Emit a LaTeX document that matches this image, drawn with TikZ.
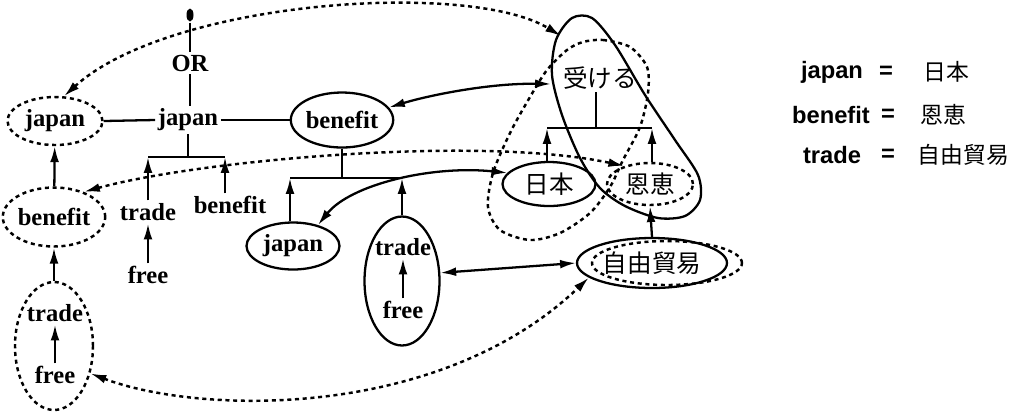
\documentclass[tikz,border=0pt]{standalone}
\usepackage{fontspec}
\setmainfont{Liberation Serif}
\setsansfont{Liberation Sans}
\newfontfamily\jpfont{Noto Sans CJK JP}
\usetikzlibrary{shapes.geometric,arrows.meta}

\tikzset{
  lbl/.style={font=\fontsize{14}{16}\selectfont\bfseries, inner sep=1pt},
  jp/.style={font=\fontsize{14}{16}\selectfont\jpfont, inner sep=1pt},
  oval/.style={ellipse, draw, line width=1.3pt, inner sep=0pt},
  dotline/.style={line width=1.4pt, dash pattern=on 2.3pt off 2.1pt},
  dotoval/.style={oval, dotline},
  tip/.style={-{Latex[length=9pt,width=5pt]}},
  tips/.style={{Latex[length=9pt,width=5pt]}-{Latex[length=9pt,width=5pt]}},
  key/.style={font=\sffamily\bfseries\fontsize{13.5}{16}\selectfont, inner sep=1pt},
}

\begin{document}
\begin{tikzpicture}[x=0.02cm, y=-0.02cm, line width=1.3pt]
  \useasboundingbox (0,0) rectangle (1011,414);

  % left part
  \node[fill, ellipse, minimum width=0.14cm, minimum height=0.26cm, inner sep=0pt] (top) at (190,15) {};
  \node[lbl] (or) at (190,63) {OR};
  \node[lbl] (japM) at (188,120) {japan};
  \node[lbl, dotoval, minimum width=1.9cm, minimum height=0.96cm] (japL) at (55,121) {japan};
  \node[lbl, dotoval, minimum width=1.84cm, minimum height=1.18cm] (benL) at (54,217) {benefit};
  \node[dotoval, minimum width=1.56cm, minimum height=2.56cm] (tfL) at (54,346) {};
  \node[lbl] (tradeL) at (55,313) {trade};
  \node[lbl] (freeL) at (55,375) {free};
  \node[lbl] (tradeA) at (148,212) {trade};
  \node[lbl] (freeA) at (148,275) {free};
  \node[lbl] (benA) at (230,205) {benefit};

  % middle part
  \node[lbl, oval, minimum width=1.76cm, minimum height=1.1cm] (benM) at (342,120) {benefit};
  \node[lbl, oval, minimum width=1.86cm, minimum height=0.94cm] (japR) at (293,246) {japan};
  \node[oval, minimum width=1.5cm, minimum height=2.58cm] (tfR) at (402,281) {};
  \node[lbl] (tradeR) at (403,247) {trade};
  \node[lbl] (freeR) at (403,310) {free};

  % japanese part
  \node[jp] (ukeru) at (600,78) {受ける};
  \node[jp, oval, minimum width=1.86cm, minimum height=0.88cm] (nihon) at (549,184) {日本};
  \node[jp, dotoval, minimum width=1.72cm, minimum height=0.84cm] (onkei) at (650,184) {恩恵};
  \node[dotoval, minimum width=3cm, minimum height=0.88cm] (jiyuD) at (667,263) {};
  \node[jp, oval, minimum width=3cm, minimum height=1cm] (jiyu) at (652,263) {自由貿易};

  \draw plot[smooth cycle] coordinates {(556,40) (572,18) (592,18) (615,45) (645,95) (675,140)
    (698,175) (700,200) (685,216) (658,218) (625,206) (600,188) (580,158) (562,115) (552,75)};
  \draw[dotline] plot[smooth cycle] coordinates {(583,42) (603,40) (630,47) (647,67) (648,93)
    (640,127) (623,160) (610,187) (590,213) (560,233) (530,240) (500,230) (488,207) (493,173)
    (510,133) (530,97) (547,70) (567,50)};
  \coordinate (lpT) at (561,36);
  \coordinate (lpL) at (551,84);

  % trees
  \coordinate (forkA) at (188,157);
  \coordinate (forkAl) at (148,157);
  \coordinate (forkAr) at (225,157);
  \coordinate (forkB) at (342,178);
  \coordinate (forkBl) at (290,178);
  \coordinate (forkBr) at (402,178);
  \coordinate (forkC) at (596,128);
  \coordinate (forkCl) at (547,128);
  \coordinate (forkCr) at (652,128);

  \draw (top) -- (or);
  \draw (or.south) -- (or.south |- japM.north);
  \draw (japL.east) -- (japM.west);
  \draw (japM.east) -- (benM.west);
  \draw (japM.south) -- (forkA);
  \draw (forkAl) -- (forkAr);
  \draw[tip] (tradeA.north) -- (forkAl);
  \draw[tip] (benA.north -| forkAr) -- (forkAr);
  \draw[tip] (freeA) -- (tradeA);
  \draw[tip] (benL) -- (japL);
  \draw[tip] (tfL) -- (benL);
  \draw[tip] (freeL) -- (tradeL);

  \draw (benM.south) -- (forkB);
  \draw (forkBl) -- (forkBr);
  \draw[tip] (japR.north -| forkBl) -- (forkBl);
  \draw[tip] (tfR.north) -- (forkBr);
  \draw[tip] (freeR) -- (tradeR);

  \draw (forkC |- ukeru.south) -- (forkC);
  \draw (forkCl) -- (forkCr);
  \draw[tip] (nihon.north -| forkCl) -- (forkCl);
  \draw[tip] (onkei.north -| forkCr) -- (forkCr);
  \draw[tip] (jiyu.north) -- (onkei.south);

  % links
  \draw[tips] (japR.40) .. controls (350,185) and (430,165) .. (nihon.165);
  \draw[tips] (benM.15) .. controls (430,95) and (490,83) .. (lpL);
  \draw[tips] (tfR.12) -- (jiyu.west);
  \draw[dotline, tips] (japL.70) .. controls (170,0) and (470,-20) .. (lpT);
  \draw[dotline, tips] (benL.40) .. controls (200,160) and (480,135) .. (onkei.145);
  \draw[dotline, tips] (tfL.-37) .. controls (200,415) and (440,420) .. (jiyu.193);

  % legend
  \node[key] (kJap) at (832,72) {japan};
  \node[key] (kBen) at (831,115) {benefit};
  \node[key] (kTra) at (832,155) {trade};
  \node[key] (eJap) at (886,72) {=};
  \node[key] (eBen) at (888,115) {=};
  \node[key] (eTra) at (888,155) {=};
  \node[jp, font=\fontsize{13}{15}\selectfont\jpfont, anchor=west] (vJap) at (921,72) {日本};
  \node[jp, font=\fontsize{13}{15}\selectfont\jpfont, anchor=west] (vBen) at (918,115) {恩恵};
  \node[jp, font=\fontsize{13}{15}\selectfont\jpfont, anchor=west] (vTra) at (915,155) {自由貿易};
\end{tikzpicture}
\end{document}
